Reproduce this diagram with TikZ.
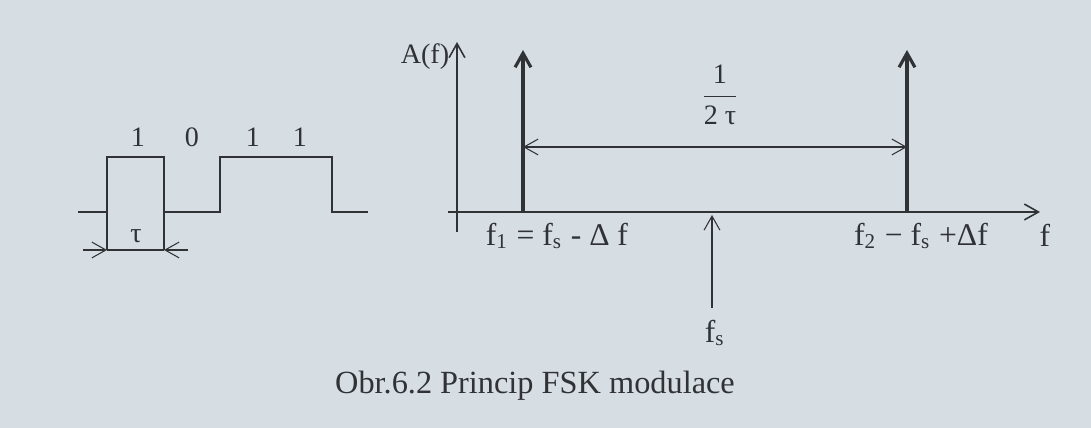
\documentclass[tikz,border=0pt]{standalone}
\usepackage{fontspec}
\setmainfont{Liberation Serif}
\usetikzlibrary{arrows.meta}
\definecolor{paper}{RGB}{214,222,228}
\definecolor{ink}{RGB}{48,50,54}
\tikzset{
  >={Straight Barb[length=4pt,width=4.5pt]},
  signal/.style={ink, line width=0.6pt},
  axis/.style={ink, line width=0.45pt, ->},
  spike/.style={ink, line width=0.9pt, ->},
  dimline/.style={ink, line width=0.3pt},
  lbl/.style={text=ink, font=\fontsize{9}{10}\selectfont, inner sep=1pt},
  small/.style={lbl, font=\fontsize{8}{9}\selectfont},
}
\begin{document}
\begin{tikzpicture}
        % podklad
        \fill[paper] (0,0) rectangle (10.91,4.28);
        \useasboundingbox (0,0) rectangle (10.91,4.28);

        % datovy signal 1 0 1 1
        \draw[signal] (0.78,2.16) -- (1.07,2.16) -- (1.07,2.71) -- (1.64,2.71) -- (1.64,2.16)
              -- (2.20,2.16) -- (2.20,2.71) -- (3.32,2.71) -- (3.32,2.16) -- (3.68,2.16);
        \foreach \x/\b [count=\i] in {1.38/1, 1.92/0, 2.53/1, 3.00/1}
            \node[small] (bit\i) at (\x,2.91) {\b};

        % delka bitu tau
        \coordinate (tl) at (1.07,1.78);
        \coordinate (tr) at (1.64,1.78);
        \draw[dimline] (1.07,2.16) -- (tl);
        \draw[dimline] (1.64,2.16) -- (tr);
        \draw[dimline] (tl) -- (tr);
        \draw[dimline,->] (0.83,1.78) -- (tl);
        \draw[dimline,->] (1.88,1.78) -- (tr);
        \node[small] (tau) at (1.36,1.92) {τ};

        % osy spektra
        \draw[axis] (4.57,1.96) -- (4.57,3.86) node[small, anchor=east, xshift=-1pt, yshift=-1.5mm] (Af) {A(f)};
        \draw[axis] (4.48,2.16) -- (10.40,2.16);
        \node[lbl] (fax) at (10.45,1.93) {f};

        % spektralni cary f1 a f2
        \coordinate (f1) at (5.23,2.16);
        \coordinate (f2) at (9.07,2.16);
        \draw[spike] (f1) -- (5.23,3.78);
        \draw[spike] (f2) -- (9.07,3.78);
        \draw[dimline,<->] (5.23,2.81) -- (9.07,2.81);
        \node[small] (frac) at (7.20,3.33) {$\displaystyle\frac{\mbox{1}}{\mbox{2 τ}}$};

        % nosna fs
        \draw[dimline,->] (7.12,1.20) -- (7.12,2.13);
        \node[lbl] (fs) at (7.15,0.95) {f\textsubscript{s}};

        % popisky kmitoctu
        \node[lbl] (f1lbl) at (5.57,1.92) {f\textsubscript{1} = f\textsubscript{s} - Δ f};
        \node[lbl] (f2lbl) at (9.21,1.92) {f\textsubscript{2} − f\textsubscript{s} +Δf};

        % titulek
        \node[lbl, font=\fontsize{9.2}{11}\selectfont] (title) at (5.35,0.42) {Obr.6.2 Princip FSK modulace};
\end{tikzpicture}
\end{document}
